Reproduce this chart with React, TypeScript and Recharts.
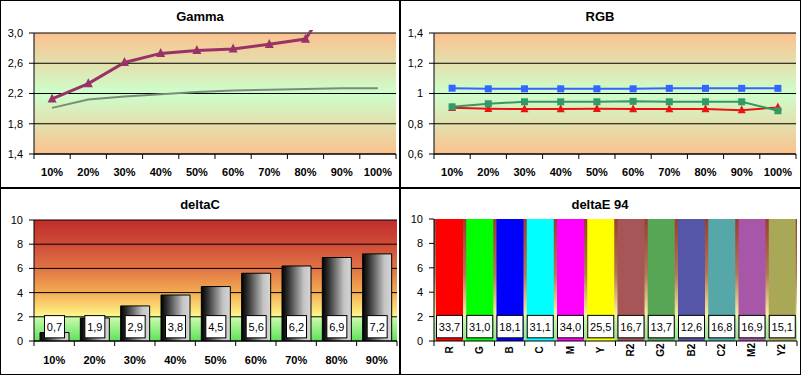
import React from "react";
import {
  LineChart,
  Line,
  BarChart,
  Bar,
  Cell,
  XAxis,
  YAxis,
  CartesianGrid,
  LabelList,
} from "recharts";

const FONT = "'Liberation Sans', Arial, sans-serif";

// ---- data ----
const gammaLevels = ["10%", "20%", "30%", "40%", "50%", "60%", "70%", "80%", "90%", "100%"];
const gammaMeasured = [2.13, 2.33, 2.61, 2.73, 2.77, 2.79, 2.85, 2.92, 3.65, null];
const gammaTarget = [2.01, 2.12, 2.16, 2.19, 2.22, 2.24, 2.25, 2.26, 2.27, 2.27];
const gammaTicks = [1.4, 1.8, 2.2, 2.6, 3.0];

const rgbLevels = ["10%", "20%", "30%", "40%", "50%", "60%", "70%", "80%", "90%", "100%"];
const rgbRed = [0.905, 0.899, 0.897, 0.897, 0.899, 0.897, 0.897, 0.897, 0.89, 0.908];
const rgbGreen = [0.912, 0.932, 0.945, 0.945, 0.945, 0.948, 0.945, 0.945, 0.945, 0.886];
const rgbBlue = [1.035, 1.031, 1.031, 1.031, 1.031, 1.031, 1.034, 1.034, 1.034, 1.034];
const rgbTicks = [0.6, 0.8, 1, 1.2, 1.4];

const deltaCLevels = ["10%", "20%", "30%", "40%", "50%", "60%", "70%", "80%", "90%"];
const deltaCValues = [0.7, 1.9, 2.9, 3.8, 4.5, 5.6, 6.2, 6.9, 7.2];

const deltaEPatches = ["R", "G", "B", "C", "M", "Y", "R2", "G2", "B2", "C2", "M2", "Y2"];
const deltaEValues = [33.7, 31.0, 18.1, 31.1, 34.0, 25.5, 16.7, 13.7, 12.6, 16.8, 16.9, 15.1];
const deltaTicks = [0, 2, 4, 6, 8, 10];

const PATCH_COLORS: Record<string, string> = {
  R: "#ff0000",
  G: "#00ff00",
  B: "#0000ff",
  C: "#00ffff",
  M: "#ff00ff",
  Y: "#ffff00",
  R2: "#a65656",
  G2: "#56a656",
  B2: "#5656a8",
  C2: "#56a8a8",
  M2: "#a856a8",
  Y2: "#a8a856",
};

const gammaData = gammaLevels.map((level, i) => ({
  level,
  measured: gammaMeasured[i],
  target: gammaTarget[i],
}));
const rgbData = rgbLevels.map((level, i) => ({
  level,
  red: rgbRed[i],
  green: rgbGreen[i],
  blue: rgbBlue[i],
}));
const deltaCData = deltaCLevels.map((level, i) => ({ level, value: deltaCValues[i] }));
const deltaEData = deltaEPatches.map((patch, i) => ({ patch, value: deltaEValues[i] }));

// ---- helpers ----
const comma = (v: number) => String(v).replace(".", ",");
const comma1 = (v: number) => v.toFixed(1).replace(".", ",");

const yTick = { fontSize: 11, fill: "#000", fontFamily: FONT };

// category tick: label at the band centre, tick marks on the band edges
const bandTick =
  (half: number, count: number, labelOffset: number, rotated = false) =>
  (p: any) => {
    const { x, y, payload, index } = p;
    const style = { fontSize: rotated ? 10 : 11, fontWeight: 700, fontFamily: FONT, fill: "#000" };
    return (
      <g>
        <line x1={x - half} x2={x - half} y1={y} y2={y + 5} stroke="#000" />
        {index === count - 1 && (
          <line x1={x + half} x2={x + half} y1={y} y2={y + 5} stroke="#000" />
        )}
        {rotated ? (
          <text
            transform={`translate(${x},${y + labelOffset}) rotate(-90)`}
            textAnchor="middle"
            dominantBaseline="central"
            style={style}
          >
            {payload.value}
          </text>
        ) : (
          <text x={x} y={y + labelOffset} textAnchor="middle" dominantBaseline="central" style={style}>
            {payload.value}
          </text>
        )}
      </g>
    );
  };

const triangleDot = (color: string, size: number) => (p: any) => {
  const { cx, cy, index } = p;
  if (cx == null || cy == null || p.value == null) return <g key={`t${index}`} />;
  return (
    <polygon
      key={`t${index}`}
      points={`${cx},${cy - size * 0.6} ${cx - size / 2},${cy + size * 0.4} ${cx + size / 2},${cy + size * 0.4}`}
      fill={color}
    />
  );
};

const squareDot = (color: string, size: number) => (p: any) => {
  const { cx, cy, index } = p;
  if (cx == null || cy == null) return <g key={`s${index}`} />;
  return <rect key={`s${index}`} x={cx - size / 2} y={cy - size / 2} width={size} height={size} fill={color} />;
};

// white value box, placed at a fixed height (value units) near the bottom of the bar
const BOX_TOP = 2.1;
const BOX_BOTTOM = 0.26;
const valueBox = (boxWidth: number | null) => (p: any) => {
  const vb = p.viewBox ?? p;
  const x = vb.x ?? p.x;
  const y = vb.y ?? p.y;
  const width = vb.width ?? p.width;
  const height = vb.height ?? p.height;
  const value = Number(p.value);
  if (!value || !height) return null;
  const base = y + height;
  const ppu = height / value;
  const top = base - BOX_TOP * ppu;
  const bottom = base - BOX_BOTTOM * ppu;
  const w = boxWidth ?? width - 1;
  const left = x + (width - w) / 2;
  return (
    <g>
      <rect x={left} y={top} width={w} height={bottom - top} fill="#fff" stroke="#000" />
      <text
        x={left + w / 2}
        y={(top + bottom) / 2}
        textAnchor="middle"
        dominantBaseline="central"
        style={{ fontSize: 11, fontFamily: FONT, fill: "#000" }}
      >
        {comma1(value)}
      </text>
    </g>
  );
};

function Title({ text, left, top }: { text: string; left: number; top: number }) {
  return (
    <div
      style={{
        position: "absolute",
        left,
        top,
        width: 400,
        textAlign: "center",
        fontFamily: FONT,
        fontWeight: 700,
        fontSize: 13,
        lineHeight: "16px",
        color: "#000",
      }}
    >
      {text}
    </div>
  );
}

// the measured gamma runs off the top of the plot; like the original, let it poke a few px past the frame
const gammaClipCss = `
.gamma-measured [clip-path] { clip-path: none; }
.gamma-measured .recharts-line-curve { clip-path: url(#gammaLooseClip); }
`;

function GammaChart() {
  return (
    <LineChart width={400} height={187} data={gammaData} margin={{ top: 33, right: 4, left: 0, bottom: 0 }}>
      <defs>
        <linearGradient id="gammaBg" x1="0" y1="0" x2="0" y2="1">
          <stop offset="0" stopColor="#fbc18e" />
          <stop offset="0.5" stopColor="#ccffcc" />
          <stop offset="1" stopColor="#fbc18e" />
        </linearGradient>
        <clipPath id="gammaLooseClip">
          <rect x={34} y={30} width={362} height={125} />
        </clipPath>
      </defs>
      <style>{gammaClipCss}</style>
      <CartesianGrid vertical={false} stroke="#000" fill="url(#gammaBg)" fillOpacity={1} />
      <XAxis
        dataKey="level"
        height={33}
        padding={{ left: 18.1, right: 18.1 }}
        interval={0}
        tickSize={0}
        tickMargin={0}
        tickLine={false}
        axisLine={{ stroke: "#000" }}
        tick={bandTick(18.1, 10, 18)}
      />
      <YAxis
        width={34}
        domain={[1.4, 3.0]}
        ticks={gammaTicks}
        allowDataOverflow
        interval={0}
        tickSize={5}
        tickMargin={6}
        tickFormatter={comma1}
        tick={yTick}
        axisLine={{ stroke: "#000" }}
        tickLine={{ stroke: "#000" }}
      />
      <Line
        dataKey="target"
        stroke="#7b8c7b"
        strokeWidth={2}
        dot={false}
        activeDot={false}
        isAnimationActive={false}
      />
      <Line
        className="gamma-measured"
        dataKey="measured"
        stroke="#993366"
        strokeWidth={3}
        dot={triangleDot("#993366", 9)}
        activeDot={false}
        isAnimationActive={false}
      />
    </LineChart>
  );
}

function RgbChart() {
  return (
    <LineChart width={400} height={187} data={rgbData} margin={{ top: 33, right: 4, left: 0, bottom: 0 }}>
      <defs>
        <linearGradient id="rgbBg" x1="0" y1="0" x2="0" y2="1">
          <stop offset="0" stopColor="#fbc18e" />
          <stop offset="0.5" stopColor="#ccffcc" />
          <stop offset="1" stopColor="#fbc18e" />
        </linearGradient>
      </defs>
      <CartesianGrid vertical={false} stroke="#000" fill="url(#rgbBg)" fillOpacity={1} />
      <XAxis
        dataKey="level"
        height={33}
        padding={{ left: 18.1, right: 18.1 }}
        interval={0}
        tickSize={0}
        tickMargin={0}
        tickLine={false}
        axisLine={{ stroke: "#000" }}
        tick={bandTick(18.1, 10, 18)}
      />
      <YAxis
        width={34}
        domain={[0.6, 1.4]}
        ticks={rgbTicks}
        allowDataOverflow
        interval={0}
        tickSize={5}
        tickMargin={6}
        tickFormatter={comma}
        tick={yTick}
        axisLine={{ stroke: "#000" }}
        tickLine={{ stroke: "#000" }}
      />
      <Line
        dataKey="red"
        stroke="#ee1111"
        strokeWidth={2}
        dot={triangleDot("#ee1111", 8)}
        activeDot={false}
        isAnimationActive={false}
      />
      <Line
        dataKey="green"
        stroke="#339966"
        strokeWidth={2}
        dot={squareDot("#339966", 7)}
        activeDot={false}
        isAnimationActive={false}
      />
      <Line
        dataKey="blue"
        stroke="#3366ff"
        strokeWidth={2}
        dot={squareDot("#3366ff", 7)}
        activeDot={false}
        isAnimationActive={false}
      />
    </LineChart>
  );
}

function DeltaCChart() {
  return (
    <BarChart width={400} height={187} data={deltaCData} margin={{ top: 32, right: 3, left: 0, bottom: 0 }}>
      <defs>
        <linearGradient id="deltaCBg" x1="0" y1="0" x2="0" y2="1">
          <stop offset="0" stopColor="#c02c2a" />
          <stop offset="0.2" stopColor="#cf4c38" />
          <stop offset="0.4" stopColor="#e07444" />
          <stop offset="0.6" stopColor="#f3ac52" />
          <stop offset="0.78" stopColor="#fff284" />
          <stop offset="0.8" stopColor="#e4fba8" />
          <stop offset="0.82" stopColor="#c2f9a6" />
          <stop offset="1" stopColor="#5ee25a" />
        </linearGradient>
        <linearGradient id="deltaCBar" x1="0" y1="0" x2="1" y2="0">
          <stop offset="0" stopColor="#000" />
          <stop offset="0.2" stopColor="#2e2e2e" />
          <stop offset="0.75" stopColor="#c4c4c4" />
          <stop offset="1" stopColor="#d6d6d6" />
        </linearGradient>
      </defs>
      <CartesianGrid vertical={false} stroke="#000" fill="url(#deltaCBg)" fillOpacity={1} />
      <XAxis
        dataKey="level"
        height={34}
        interval={0}
        tickSize={0}
        tickMargin={0}
        tickLine={false}
        axisLine={{ stroke: "#000" }}
        tick={bandTick(363 / 18, 9, 19)}
      />
      <YAxis
        width={34}
        domain={[0, 10]}
        ticks={deltaTicks}
        allowDataOverflow
        interval={0}
        tickSize={5}
        tickMargin={6}
        tick={yTick}
        axisLine={{ stroke: "#000" }}
        tickLine={{ stroke: "#000" }}
      />
      <Bar dataKey="value" barSize={29} fill="url(#deltaCBar)" stroke="#000" isAnimationActive={false}>
        <LabelList dataKey="value" content={valueBox(20)} />
      </Bar>
    </BarChart>
  );
}

function DeltaEChart() {
  return (
    <BarChart width={400} height={187} data={deltaEData} margin={{ top: 31, right: 3, left: 0, bottom: 0 }}>
      <defs>
        <linearGradient id="deltaEBg" x1="0" y1="0" x2="0" y2="1">
          <stop offset="0" stopColor="#9a3e32" />
          <stop offset="0.45" stopColor="#b47656" />
          <stop offset="0.7" stopColor="#e6d08c" />
          <stop offset="0.79" stopColor="#f4f4a4" />
          <stop offset="0.82" stopColor="#cdf3b4" />
          <stop offset="1" stopColor="#92e48e" />
        </linearGradient>
      </defs>
      <CartesianGrid vertical={false} horizontal={false} fill="url(#deltaEBg)" fillOpacity={1} />
      <XAxis
        dataKey="patch"
        height={34}
        interval={0}
        tickSize={0}
        tickMargin={0}
        tickLine={false}
        axisLine={{ stroke: "#000" }}
        tick={bandTick(363 / 24, 12, 9, true)}
      />
      <YAxis
        width={34}
        domain={[0, 10]}
        ticks={deltaTicks}
        allowDataOverflow
        interval={0}
        tickSize={5}
        tickMargin={6}
        tick={yTick}
        axisLine={{ stroke: "#000" }}
        tickLine={{ stroke: "#000" }}
      />
      <Bar dataKey="value" barSize={27} isAnimationActive={false}>
        {deltaEData.map((d) => (
          <Cell key={d.patch} fill={PATCH_COLORS[d.patch]} />
        ))}
        <LabelList dataKey="value" content={valueBox(null)} />
      </Bar>
    </BarChart>
  );
}

export default function App() {
  return (
    <div
      style={{
        position: "absolute",
        left: 0,
        top: 0,
        width: 801,
        height: 375,
        background: "#fff",
        boxSizing: "border-box",
        border: "1px solid #000",
        overflow: "hidden",
      }}
    >
      <div style={{ position: "absolute", left: -1, top: -1 }}>
        <GammaChart />
      </div>
      <div style={{ position: "absolute", left: 399, top: -1 }}>
        <RgbChart />
      </div>
      <div style={{ position: "absolute", left: -1, top: 187 }}>
        <DeltaCChart />
      </div>
      <div style={{ position: "absolute", left: 399, top: 187 }}>
        <DeltaEChart />
      </div>
      <Title text="Gamma" left={-1} top={8} />
      <Title text="RGB" left={399} top={8} />
      <Title text="deltaC" left={-1} top={196} />
      <Title text="deltaE 94" left={399} top={196} />
      {/* panel dividers */}
      <div style={{ position: "absolute", left: 398, top: 0, width: 2, height: 375, background: "#000" }} />
      <div style={{ position: "absolute", left: 0, top: 186, width: 801, height: 2, background: "#000" }} />
    </div>
  );
}
